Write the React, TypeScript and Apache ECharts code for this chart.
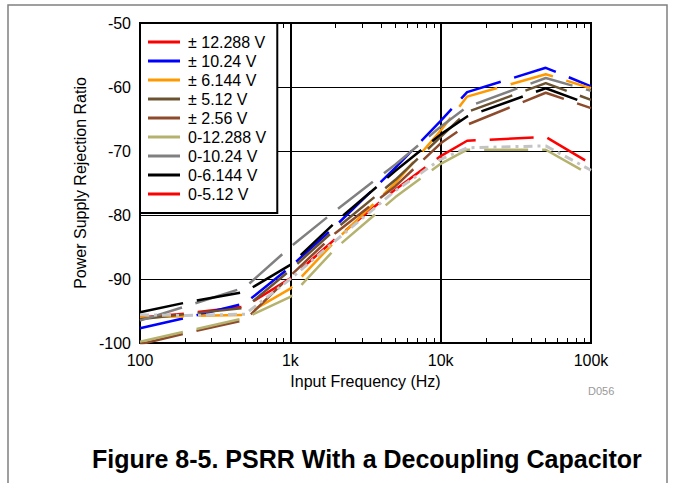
import React, { useEffect, useRef } from 'react';
import * as echarts from 'echarts';

// Frequencies (Hz) at which each curve is sampled
const frequencies = [100, 200, 500, 1000, 2000, 5000, 10000, 15000, 50000, 100000];

// PSRR values (dB) per input range
const bip12288 = [-96.0, -95.4, -94.3, -89.9, -83.7, -76.0, -70.8, -68.4, -67.8, -72.0];
const bip1024 = [-97.7, -96.1, -93.8, -88.1, -81.7, -72.6, -65.3, -60.8, -57.0, -59.9];
const bip6144 = [-96.0, -95.8, -95.6, -91.5, -84.0, -75.0, -66.8, -61.5, -58.0, -60.2];
const bip512 = [-96.3, -95.5, -94.5, -88.6, -82.2, -74.5, -67.8, -63.9, -59.4, -62.0];
const bip256 = [-100.2, -98.5, -96.4, -89.5, -82.8, -75.5, -68.8, -65.9, -60.9, -63.3];
const uni12288 = [-99.8, -98.2, -96.1, -92.8, -85.2, -77.2, -72.0, -69.8, -69.8, -73.8];
const uni1024 = [-96.5, -94.3, -91.3, -85.0, -79.3, -72.1, -66.2, -63.1, -58.6, -60.6];
const uni6144 = [-95.2, -93.7, -92.0, -87.8, -81.1, -73.1, -67.4, -64.6, -60.2, -62.8];
const uni512 = [-95.6, -95.7, -95.5, -90.0, -84.0, -76.2, -71.3, -69.5, -69.2, -73.0];

const seriesNames = [
  '± 12.288 V',
  '± 10.24 V',
  '± 6.144 V',
  '± 5.12 V',
  '± 2.56 V',
  '0-12.288 V',
  '0-10.24 V',
  '0-6.144 V',
  '0-5.12 V',
];
const seriesValues = [bip12288, bip1024, bip6144, bip512, bip256, uni12288, uni1024, uni6144, uni512];
const legendColors = ['#ff0000', '#0000ff', '#ff9900', '#6b5230', '#8e4b2c', '#b5b26e', '#808080', '#000000', '#ff0000'];
const lineColors = ['#ff0000', '#0000ff', '#ff9900', '#6b5230', '#8e4b2c', '#b5b26e', '#808080', '#000000', '#c4c4c4'];

// Tick labels
const xTickLabels: Record<number, string> = { 100: '100', 1000: '1k', 10000: '10k', 100000: '100k' };
const minorTicks = [
  200, 300, 400, 500, 600, 700, 800, 900,
  2000, 3000, 4000, 5000, 6000, 7000, 8000, 9000,
  20000, 30000, 40000, 50000, 60000, 70000, 80000, 90000,
];

const FONT = '"Liberation Sans", Arial, Helvetica, sans-serif';

export default function App() {
  const ref = useRef<HTMLDivElement>(null);

  useEffect(() => {
    if (!ref.current) return;
    const chart = echarts.init(ref.current, undefined, { renderer: 'svg' });

    const series = seriesNames.map((name, i) => {
      const dashed = i === 8;
      return {
        name,
        type: 'line',
        symbol: 'none',
        showSymbol: false,
        silent: true,
        z: dashed ? 3 : 2,
        itemStyle: { color: legendColors[i] },
        lineStyle: {
          color: lineColors[i],
          width: dashed ? 3 : 2.5,
          type: dashed ? [9, 5, 3, 5] : [44, 14],
          dashOffset: 0,
        },
        data: frequencies.map((f, k) => [f, seriesValues[i][k]]),
      };
    });

    const tickAxis = (position: 'top' | 'bottom') => ({
      type: 'log',
      logBase: 10,
      gridIndex: 0,
      position,
      min: 100,
      max: 100000,
      axisLine: { show: false },
      axisLabel: { show: false },
      splitLine: { show: false },
      axisTick: {
        show: true,
        inside: true,
        length: 5,
        customValues: minorTicks,
        lineStyle: { color: '#000', width: 1 },
      },
    });

    chart.setOption({
      animation: false,
      backgroundColor: '#fff',
      grid: {
        left: 140,
        right: 85,
        top: 23,
        bottom: 140,
        show: true,
        borderColor: '#000',
        borderWidth: 2,
        backgroundColor: 'transparent',
      },
      legend: {
        orient: 'vertical',
        left: 140,
        top: 23,
        padding: [11, 11, 11, 8],
        itemWidth: 32,
        itemHeight: 3,
        itemGap: 3,
        borderColor: '#000',
        borderWidth: 2,
        backgroundColor: '#fff',
        selectedMode: false,
        textStyle: { fontSize: 16, lineHeight: 16, color: '#000', fontFamily: FONT, padding: [0, 0, 0, 3] },
        data: seriesNames.map((name, i) => ({
          name,
          icon: 'rect',
          itemStyle: { color: legendColors[i], borderWidth: 0 },
        })),
      },
      xAxis: [
        {
          type: 'log',
          logBase: 10,
          min: 100,
          max: 100000,
          name: 'Input Frequency (Hz)',
          nameLocation: 'middle',
          nameGap: 30,
          nameTextStyle: { fontSize: 16, color: '#000', fontFamily: FONT },
          axisLine: { show: true, lineStyle: { color: '#000', width: 2 } },
          axisTick: { show: false },
          axisLabel: {
            fontSize: 16,
            color: '#000',
            fontFamily: FONT,
            margin: 9,
            formatter: (v: number) => xTickLabels[Math.round(v)] ?? '',
          },
          splitLine: { show: true, lineStyle: { color: '#000', width: 2 } },
        },
        tickAxis('bottom'),
        tickAxis('top'),
      ],
      yAxis: {
        type: 'value',
        min: -100,
        max: -50,
        interval: 10,
        name: 'Power Supply Rejection Ratio',
        nameLocation: 'middle',
        nameGap: 52,
        nameTextStyle: { fontSize: 16, color: '#000', fontFamily: FONT },
        axisLine: { show: true, lineStyle: { color: '#000', width: 2 } },
        axisTick: { show: false },
        axisLabel: { fontSize: 16, color: '#000', fontFamily: FONT, margin: 9 },
        splitLine: { show: true, lineStyle: { color: '#000', width: 1 } },
      },
      graphic: [
        {
          type: 'rect',
          z: -10,
          silent: true,
          shape: { x: 8, y: 5, width: 659, height: 500 },
          style: { fill: 'none', stroke: '#808080', lineWidth: 1.5 },
        },
        {
          type: 'text',
          left: 588,
          top: 385,
          silent: true,
          style: { text: 'D056', fill: '#999', fontSize: 11, fontFamily: FONT },
        },
        {
          type: 'text',
          left: 92,
          top: 446,
          silent: true,
          style: {
            text: 'Figure 8-5. PSRR With a Decoupling Capacitor',
            fill: '#000',
            fontSize: 25,
            fontWeight: 'bold',
            fontFamily: FONT,
          },
        },
      ],
      series,
    });

    return () => chart.dispose();
  }, []);

  return (
    <div
      ref={ref}
      style={{ position: 'fixed', left: 0, top: 0, width: 676, height: 483, background: '#fff' }}
    />
  );
}
